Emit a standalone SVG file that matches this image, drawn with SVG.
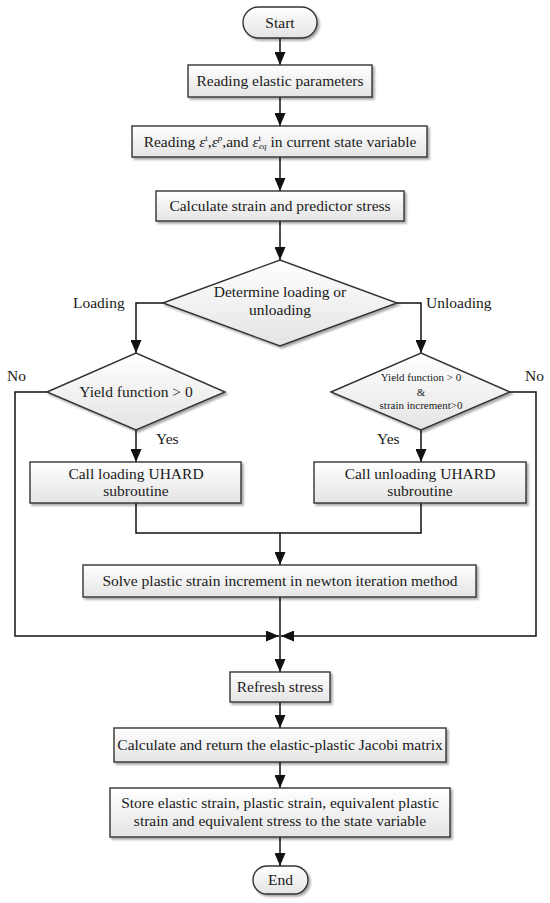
<svg xmlns="http://www.w3.org/2000/svg" width="550" height="903" viewBox="0 0 550 903">
<defs>
<linearGradient id="g" x1="0" y1="0" x2="0" y2="1">
<stop offset="0" stop-color="#ffffff"/>
<stop offset="1" stop-color="#e4e4e4"/>
</linearGradient>
<filter id="sh" x="-10%" y="-20%" width="130%" height="160%">
<feDropShadow dx="2" dy="2" stdDeviation="1.2" flood-color="#000" flood-opacity="0.35"/>
</filter>
<marker id="ah" markerUnits="userSpaceOnUse" markerWidth="13" markerHeight="11" refX="13" refY="5.5" orient="auto">
<path d="M0,0 L13,5.5 L0,11 z" fill="#111"/>
</marker>
</defs>
<style>
.n{fill:url(#g);stroke:#333;stroke-width:1.4;filter:url(#sh)}
.t{font-family:"Liberation Serif","Times New Roman",serif;font-size:15.5px;fill:#1a1a1a;text-anchor:middle}
.s{font-family:"Liberation Serif","Times New Roman",serif;font-size:11px;fill:#1a1a1a;text-anchor:middle}
.l{font-family:"Liberation Serif","Times New Roman",serif;font-size:15.5px;fill:#1a1a1a}
.c{fill:none;stroke:#111;stroke-width:1.5}
.a{marker-end:url(#ah)}
</style>
<rect width="550" height="903" fill="#fff"/>
<g id="connectors">
<line class="c a" x1="280" y1="38" x2="280" y2="65"/>
<line class="c a" x1="280" y1="97" x2="280" y2="126"/>
<line class="c a" x1="280" y1="157" x2="280" y2="191"/>
<line class="c a" x1="280" y1="221" x2="280" y2="260"/>
<polyline class="c a" points="163,303 136,303 136,353"/>
<polyline class="c a" points="397,303 421,303 421,353"/>
<line class="c a" x1="136" y1="430" x2="136" y2="462"/>
<line class="c a" x1="421" y1="430" x2="421" y2="462"/>
<polyline class="c" points="136,503 136,533 421,533 421,503"/>
<line class="c a" x1="280" y1="533" x2="280" y2="565"/>
<line class="c a" x1="280" y1="597" x2="280" y2="672"/>
<polyline class="c a" points="47,392 15,392 15,636 279,636"/>
<polyline class="c a" points="510,392 536,392 536,636 281,636"/>
<line class="c a" x1="280" y1="702" x2="280" y2="728"/>
<line class="c a" x1="280" y1="762" x2="280" y2="788"/>
<line class="c a" x1="280" y1="837" x2="280" y2="866"/>
<text class="l" x="73" y="308">Loading</text>
<text class="l" x="426" y="308">Unloading</text>
<text class="l" x="7" y="381">No</text>
<text class="l" x="525" y="381">No</text>
<text class="l" x="156" y="444">Yes</text>
<text class="l" x="377" y="444">Yes</text>
</g>
<g id="start">
<rect class="n" x="243" y="7" width="74" height="31" rx="15.5"/>
<text class="t" x="280" y="28">Start</text>
</g>
<g id="read-elastic">
<rect class="n" x="188" y="65" width="184" height="32"/>
<text class="t" x="280" y="86">Reading elastic parameters</text>
</g>
<g id="read-state">
<rect class="n" x="132" y="126" width="295" height="31"/>
<text class="t" x="280" y="147">Reading <tspan font-style="italic">ε</tspan><tspan font-size="9" dy="-6">t</tspan><tspan dy="6">,</tspan><tspan font-style="italic">ε</tspan><tspan font-size="9" font-style="italic" dy="-6">p</tspan><tspan dy="6">,and </tspan><tspan font-style="italic">ε</tspan><tspan font-size="9" dy="-6">t</tspan><tspan font-size="8" font-style="italic" dx="-2" dy="8">eq</tspan><tspan dy="-2"> in current state variable</tspan></text>
</g>
<g id="calc-predictor">
<rect class="n" x="156" y="191" width="248" height="30"/>
<text class="t" x="280" y="211">Calculate strain and predictor stress</text>
</g>
<g id="decide-loading">
<polygon class="n" points="163,303 280,260 397,303 280,346"/>
<text class="t" x="280" y="297">Determine loading or</text>
<text class="t" x="280" y="315">unloading</text>
</g>
<g id="yield-loading">
<polygon class="n" points="47,392 136,353 225,392 136,430"/>
<text class="t" x="136" y="397">Yield function &gt; 0</text>
</g>
<g id="yield-unloading">
<polygon class="n" points="331,392 421,353 510,392 421,430"/>
<text class="s" x="421" y="381">Yield function &gt; 0</text>
<text class="s" x="421" y="396">&amp;</text>
<text class="s" x="421" y="409">strain increment&gt;0</text>
</g>
<g id="call-loading">
<rect class="n" x="30" y="462" width="211" height="41"/>
<text class="t" x="136" y="479">Call loading UHARD</text>
<text class="t" x="136" y="496">subroutine</text>
</g>
<g id="call-unloading">
<rect class="n" x="314" y="462" width="212" height="41"/>
<text class="t" x="420" y="479">Call unloading UHARD</text>
<text class="t" x="420" y="496">subroutine</text>
</g>
<g id="solve">
<rect class="n" x="83" y="565" width="393" height="32"/>
<text class="t" x="280" y="586">Solve plastic strain increment in newton iteration method</text>
</g>
<g id="refresh">
<rect class="n" x="230" y="672" width="100" height="30"/>
<text class="t" x="280" y="692">Refresh stress</text>
</g>
<g id="jacobi">
<rect class="n" x="114" y="728" width="332" height="34"/>
<text class="t" x="280" y="750">Calculate and return the elastic-plastic Jacobi matrix</text>
</g>
<g id="store">
<rect class="n" x="110" y="788" width="340" height="49"/>
<text class="t" x="280" y="808">Store elastic strain, plastic strain, equivalent plastic</text>
<text class="t" x="280" y="826">strain and equivalent stress to the state variable</text>
</g>
<g id="end">
<rect class="n" x="253" y="866" width="55" height="28" rx="14"/>
<text class="t" x="280.5" y="885">End</text>
</g>
</svg>
